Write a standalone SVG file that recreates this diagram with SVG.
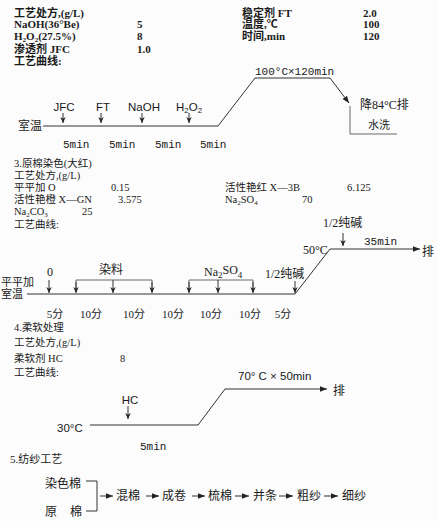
<svg xmlns="http://www.w3.org/2000/svg" width="438" height="521" viewBox="0 0 438 521">
<defs>
<style>
.t{font-family:"Liberation Serif","Noto Sans CJK SC",serif;font-size:11px;fill:#1a1a1a}
.r{font-family:"Liberation Serif","Noto Sans CJK SC",serif;font-size:10.5px;fill:#1a1a1a}
.b{font-weight:bold}
.s{font-family:"Liberation Sans","Noto Sans CJK SC",sans-serif;font-size:11.5px;fill:#1a1a1a}
.m{font-family:"Liberation Mono","Noto Sans CJK SC",monospace;font-size:11px;fill:#1a1a1a}
.c{font-family:"Liberation Serif","Noto Sans CJK SC",serif;font-size:12px;fill:#1a1a1a}
.ln{fill:none;stroke:#333;stroke-width:1}
.th{fill:none;stroke:#444;stroke-width:0.8}
</style>
<marker id="ah" viewBox="0 0 10 10" refX="10" refY="5" markerWidth="7" markerHeight="7" markerUnits="userSpaceOnUse" orient="auto"><path d="M0,1 L10,5 L0,9 z" fill="#222"/></marker>
<marker id="ad" viewBox="0 0 10 10" refX="10" refY="5" markerWidth="6" markerHeight="6" markerUnits="userSpaceOnUse" orient="auto"><path d="M0,0.5 L10,5 L0,9.5 L3,5 z" fill="#222"/></marker>
</defs>
<rect width="438" height="521" fill="#fcfcfc"/>

<g id="sec1-recipe">
<text class="t b" x="14" y="17">工艺处方,(g/L)</text>
<text class="t b" x="14" y="28">NaOH(36°Be)</text>
<text class="t b" x="137" y="28">5</text>
<text class="t b" x="14" y="40">H<tspan font-size="7" dy="2">2</tspan><tspan dy="-2">O</tspan><tspan font-size="7" dy="2">2</tspan><tspan dy="-2">(27.5%)</tspan></text>
<text class="t b" x="137" y="40">8</text>
<text class="t b" x="14" y="53">渗透剂 JFC</text>
<text class="t b" x="137" y="53">1.0</text>
<text class="t b" x="14" y="65">工艺曲线:</text>
<text class="t b" x="242" y="17">稳定剂 FT</text>
<text class="t b" x="363" y="17">2.0</text>
<text class="t b" x="242" y="28">温度,℃</text>
<text class="t b" x="363" y="28">100</text>
<text class="t b" x="242" y="40">时间,min</text>
<text class="t b" x="363" y="40">120</text>
</g>

<g id="sec1-curve">
<text class="c" x="18" y="130">室温</text>
<text class="s" x="64" y="111" text-anchor="middle">JFC</text>
<text class="s" x="103" y="111" text-anchor="middle">FT</text>
<text class="s" x="144" y="111" text-anchor="middle">NaOH</text>
<text class="s" x="189" y="111" text-anchor="middle">H<tspan font-size="8" dy="2">2</tspan><tspan dy="-2">O</tspan><tspan font-size="8" dy="2">2</tspan></text>
<text class="m" x="63" y="148">5min</text>
<text class="m" x="109" y="148">5min</text>
<text class="m" x="155" y="148">5min</text>
<text class="m" x="200" y="148">5min</text>
<text class="m" x="255" y="75">100°C×120min</text>
<text class="c" x="360" y="109">降84°C排</text>
<text class="t" x="368" y="129">水洗</text>
</g>

<g id="sec3-recipe">
<text class="r" x="14" y="167">3.原棉染色(大红)</text>
<text class="r" x="14" y="179">工艺处方,(g/L)</text>
<text class="r" x="14" y="191">平平加 O</text>
<text class="r" x="111" y="191">0.15</text>
<text class="r" x="14" y="203">活性艳橙 X—GN</text>
<text class="r" x="118" y="203">3.575</text>
<text class="r" x="14" y="215">Na<tspan font-size="7" dy="2">2</tspan><tspan dy="-2">CO</tspan><tspan font-size="7" dy="2">3</tspan></text>
<text class="r" x="82" y="215">25</text>
<text class="r" x="14" y="228">工艺曲线:</text>
<text class="r" x="225" y="191">活性艳红 X—3B</text>
<text class="r" x="347" y="191">6.125</text>
<text class="r" x="225" y="203">Na<tspan font-size="7" dy="2">2</tspan><tspan dy="-2">SO</tspan><tspan font-size="7" dy="2">4</tspan></text>
<text class="r" x="302" y="203">70</text>
</g>

<g id="sec3-curve">
<text class="t" x="1" y="286">平平加</text>
<text class="t" x="1" y="298">室温</text>
<text class="c" x="50" y="276" text-anchor="middle">0</text>
<text class="c" x="111" y="274" text-anchor="middle">染料</text>
<text class="c" x="204" y="276">Na<tspan font-size="9" dy="2">2</tspan><tspan dy="-4">SO</tspan><tspan font-size="9" dy="4">4</tspan></text>
<text class="c" x="265" y="278">1/2纯碱</text>
<text class="c" x="323" y="227">1/2纯碱</text>
<text class="m" x="364" y="245">35min</text>
<text class="c" x="303" y="254">50°C</text>
<text class="c" x="422" y="256">排</text>
<text class="t" x="55" y="318" text-anchor="middle">5分</text>
<text class="t" x="91" y="318" text-anchor="middle">10分</text>
<text class="t" x="134" y="318" text-anchor="middle">10分</text>
<text class="t" x="173" y="318" text-anchor="middle">10分</text>
<text class="t" x="211" y="318" text-anchor="middle">10分</text>
<text class="t" x="250" y="318" text-anchor="middle">10分</text>
<text class="t" x="283" y="318" text-anchor="middle">5分</text>
</g>

<g id="sec4-recipe">
<text class="r" x="14" y="331">4.柔软处理</text>
<text class="r" x="14" y="346">工艺处方,(g/L)</text>
<text class="r" x="14" y="362">柔软剂 HC</text>
<text class="r" x="120" y="362">8</text>
<text class="r" x="14" y="376">工艺曲线:</text>
</g>

<g id="sec4-curve">
<text class="s" x="130" y="404" text-anchor="middle">HC</text>
<text class="s" x="57" y="432">30°C</text>
<text class="s" x="238" y="380" font-size="11">70° C × 50min</text>
<text class="c" x="333" y="395">排</text>
<text class="m" x="140" y="450">5min</text>
</g>

<g id="sec5">
<text class="t" x="10" y="463">5.纺纱工艺</text>
<text class="c" x="45" y="488">染色棉</text>
<text class="c" x="45" y="516">原</text>
<text class="c" x="70" y="516">棉</text>
<text class="c" x="116" y="500">混棉</text>
<text class="c" x="162" y="500">成卷</text>
<text class="c" x="208" y="500">梳棉</text>
<text class="c" x="253" y="500">并条</text>
<text class="c" x="297" y="500">粗纱</text>
<text class="c" x="342" y="500">细纱</text>
</g>

<g id="connectors">
<polyline class="ln" points="43,126 218,126 255,78 330,78"/>
<line class="ln" x1="330" y1="78" x2="349" y2="103" marker-end="url(#ah)"/>
<polyline class="th" points="350,106 350,134 397,134"/>
<line class="ln" x1="63" y1="113" x2="63" y2="123" marker-end="url(#ad)"/>
<line class="ln" x1="101" y1="113" x2="101" y2="123" marker-end="url(#ad)"/>
<line class="ln" x1="142" y1="113" x2="142" y2="123" marker-end="url(#ad)"/>
<line class="ln" x1="189" y1="113" x2="189" y2="123" marker-end="url(#ad)"/>
<polyline class="ln" points="27,294 295,294 330,249 420,249" marker-end="url(#ah)"/>
<line class="ln" x1="49" y1="280" x2="49" y2="293" marker-end="url(#ad)"/>
<polyline class="th" points="76,292 76,280 152,280 152,292"/>
<line class="ln" x1="76" y1="282" x2="76" y2="293" marker-end="url(#ad)"/>
<line class="ln" x1="113" y1="280" x2="113" y2="293" marker-end="url(#ad)"/>
<line class="ln" x1="152" y1="282" x2="152" y2="293" marker-end="url(#ad)"/>
<polyline class="th" points="189,292 189,280 253,280 253,292"/>
<line class="ln" x1="189" y1="282" x2="189" y2="293" marker-end="url(#ad)"/>
<line class="ln" x1="218" y1="280" x2="218" y2="293" marker-end="url(#ad)"/>
<line class="ln" x1="253" y1="282" x2="253" y2="293" marker-end="url(#ad)"/>
<line class="ln" x1="295" y1="281" x2="295" y2="293" marker-end="url(#ad)"/>
<line class="ln" x1="343" y1="233" x2="343" y2="246" marker-end="url(#ad)"/>
<polyline class="ln" points="90,425 198,425 225,389 327,389" marker-end="url(#ah)"/>
<line class="ln" x1="128" y1="406" x2="128" y2="419" marker-end="url(#ad)"/>
<polyline class="ln" points="86,481 97,481 97,511 86,511"/>
<line class="ln" x1="100" y1="496" x2="113" y2="496" marker-end="url(#ah)"/>
<line class="ln" x1="146" y1="496" x2="159" y2="496" marker-end="url(#ah)"/>
<line class="ln" x1="192" y1="496" x2="205" y2="496" marker-end="url(#ah)"/>
<line class="ln" x1="235" y1="496" x2="249" y2="496" marker-end="url(#ah)"/>
<line class="ln" x1="279" y1="496" x2="293" y2="496" marker-end="url(#ah)"/>
<line class="ln" x1="324" y1="496" x2="338" y2="496" marker-end="url(#ah)"/>
</g>
</svg>
